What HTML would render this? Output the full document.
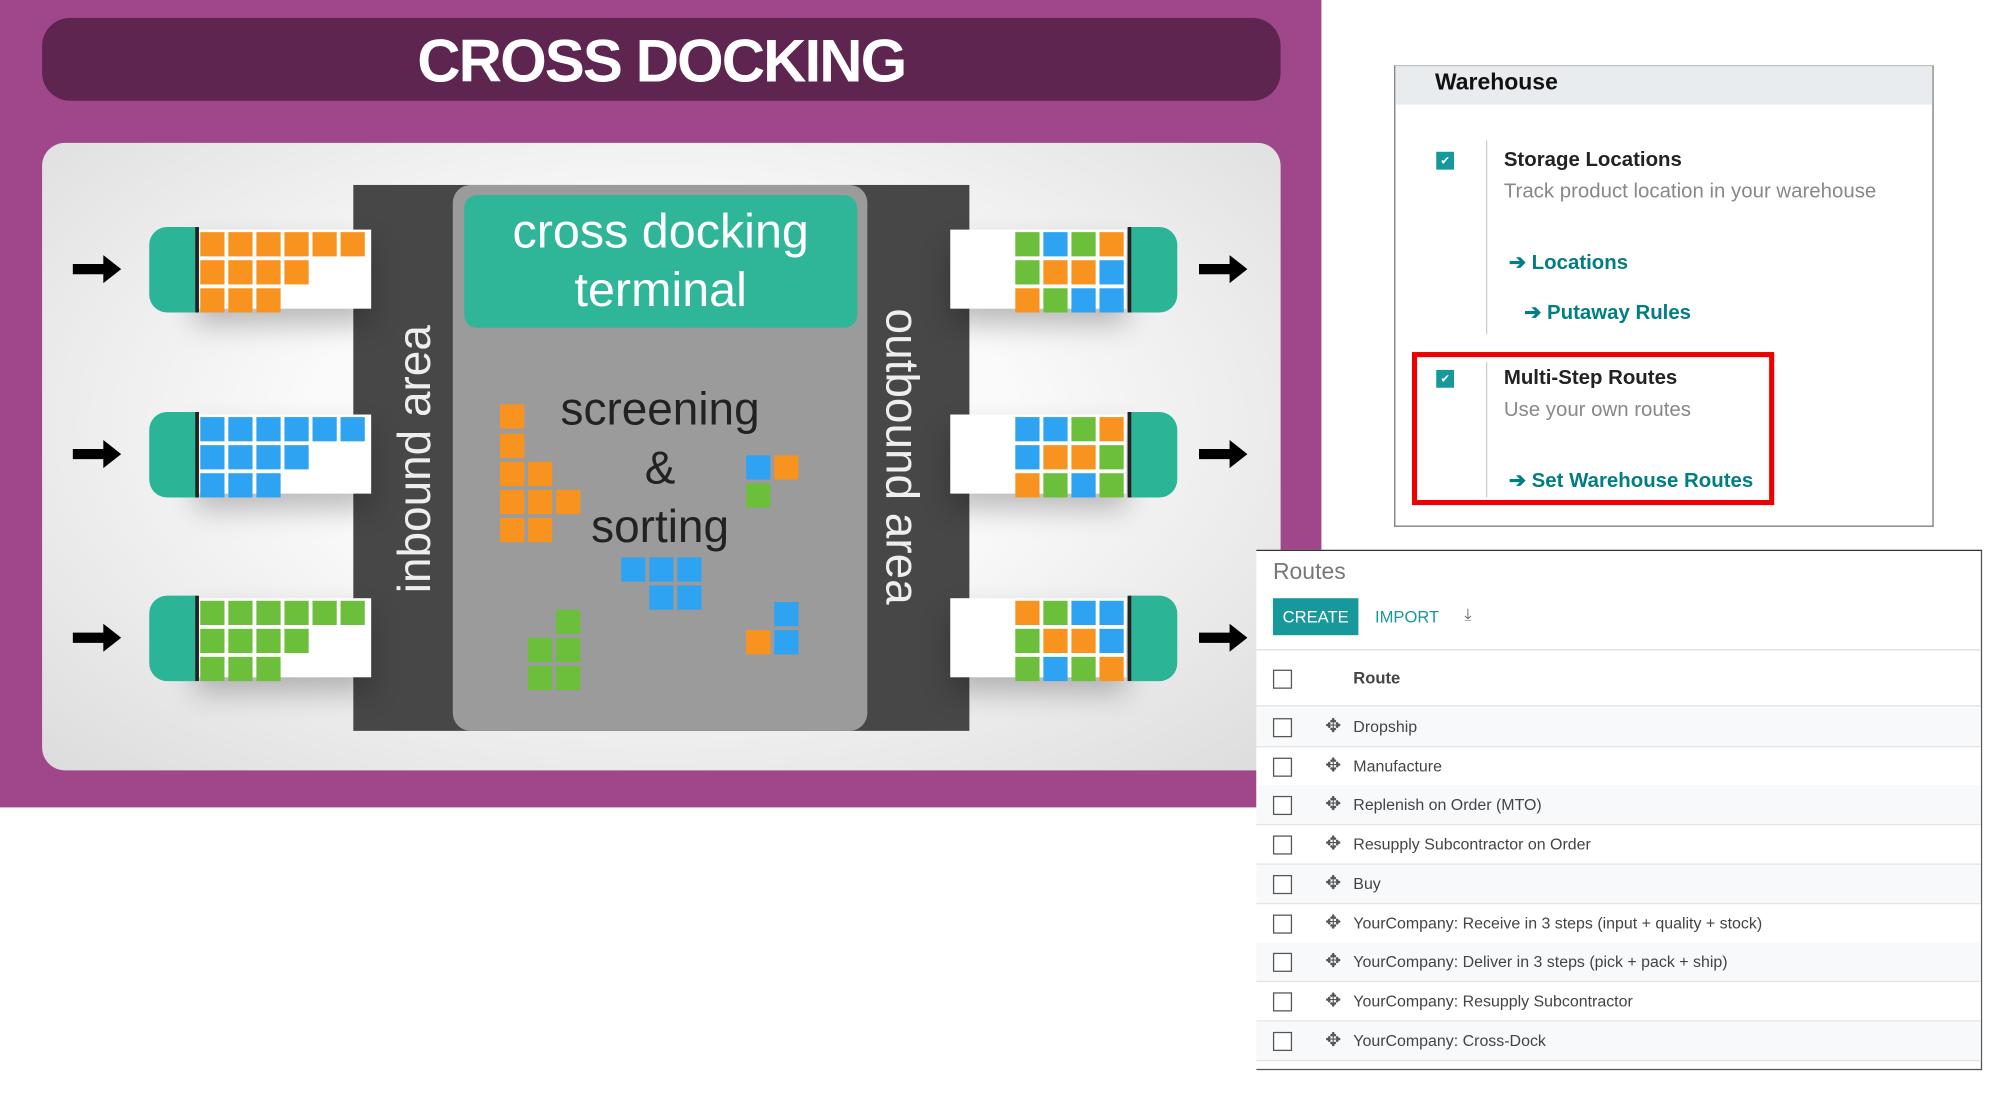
<!DOCTYPE html>
<html><head><meta charset="utf-8"><style>
html,body{margin:0;padding:0;background:#fff;overflow:hidden}
#wrap{position:absolute;left:0;top:0;width:1570px;height:863px;transform:scale(1.2755);transform-origin:0 0;font-family:"Liberation Sans",sans-serif}
.a{position:absolute}
.sq{position:absolute;width:19px;height:19px}
.O{background:#f7931e}.B{background:#2ea3f2}.G{background:#6cbf3b}
.cab{position:absolute;width:36px;height:67px;background:#2bb596}
.trl{position:absolute;height:62px;width:138px;background:#fff;box-shadow:0 12px 22px rgba(0,0,0,.25)}
.arr{position:absolute;width:38px;height:22px}
.lnk{color:#017e84;font-weight:bold;font-size:16px}
.cb{position:absolute;width:13px;height:13px;border:1.5px solid #555;background:#fff}
.row{position:absolute;left:0;width:568px;height:30px;border-bottom:1px solid #e2e2e2;font-size:13px;color:#444}
.row span{position:absolute;top:8px}
</style></head><body><div id="wrap">
<div class="a" style="left:0;top:0;width:1036px;height:633px;background:#a0468a"></div>
<div class="a" style="left:33px;top:14px;width:971px;height:65px;border-radius:22px;background:#5e2550;color:#fff;font-weight:bold;font-size:47px;text-align:center;line-height:67px;letter-spacing:-1.5px">CROSS DOCKING</div>
<div class="a" style="left:33px;top:112px;width:971px;height:492px;border-radius:18px;background:radial-gradient(ellipse at 50% 45%,#fafafa 40%,#dcdcdc 100%)"></div>
<div class="a" style="left:277px;top:145px;width:483px;height:428px;background:#474747"></div>
<div class="a" style="left:355px;top:145px;width:325px;height:428px;background:#9b9b9b;border-radius:14px"></div>
<div class="a" style="left:364px;top:153px;width:308px;height:104px;background:#2fb597;border-radius:10px;color:#fff;font-size:38px;text-align:center;line-height:46px;padding-top:6px;box-sizing:border-box">cross docking<br>terminal</div>
<div class="a" style="left:355px;top:298px;width:325px;text-align:center;font-size:36px;line-height:46px;color:#222">screening<br>&amp;<br>sorting</div>
<div class="a" style="left:325px;top:360px;width:0;height:0"><div style="position:absolute;transform:translate(-50%,-50%) rotate(-90deg);white-space:nowrap;color:#eee;font-size:36px">inbound area</div></div>
<div class="a" style="left:707px;top:358px;width:0;height:0"><div style="position:absolute;transform:translate(-50%,-50%) rotate(90deg);white-space:nowrap;color:#eee;font-size:36px">outbound area</div></div>
<div id="gen"></div>

<div class="a" style="left:1093px;top:51px;width:421px;height:360px;border:1px solid #777;border-top-color:#bbb;background:#fff"></div>
<div class="a" style="left:1094px;top:52px;width:421px;height:30px;background:#e9ecef"></div>
<div class="a" style="left:1125px;top:54px;font-size:18px;font-weight:bold;color:#111">Warehouse</div>
<div class="a" style="left:1126px;top:119px;width:14px;height:14px;background:#17999b;color:#fff;font-size:9px;text-align:center;line-height:14px">✔</div>
<div class="a" style="left:1165px;top:110px;width:1px;height:152px;background:#ccc"></div>
<div class="a" style="left:1179px;top:117px;font-size:16px;font-weight:bold;color:#222">Storage Locations</div>
<div class="a" style="left:1179px;top:142px;font-size:16px;color:#888">Track product location in your warehouse</div>
<div class="a lnk" style="left:1183px;top:196px">➔ Locations</div>
<div class="a lnk" style="left:1195px;top:235px">➔ Putaway Rules</div>
<div class="a" style="left:1107px;top:276px;width:276px;height:112px;border:4px solid #ee0000"></div>
<div class="a" style="left:1126px;top:290px;width:14px;height:14px;background:#17999b;color:#fff;font-size:9px;text-align:center;line-height:14px">✔</div>
<div class="a" style="left:1165px;top:284px;width:1px;height:106px;background:#ccc"></div>
<div class="a" style="left:1179px;top:288px;font-size:16px;font-weight:bold;color:#222">Multi-Step Routes</div>
<div class="a" style="left:1179px;top:313px;font-size:16px;color:#888">Use your own routes</div>
<div class="a lnk" style="left:1183px;top:367px">➔ Set Warehouse Routes</div>

<div class="a" style="left:985px;top:431px;width:568px;height:406px;border-top:1.5px solid #333;border-right:1.5px solid #555;border-bottom:1.5px solid #555;background:#fff">
 <div class="a" style="left:13px;top:6px;font-size:18px;color:#777">Routes</div>
 <div class="a" style="left:13px;top:37px;width:67px;height:29px;background:#17999b;color:#fff;font-size:13px;line-height:29px;text-align:center">CREATE</div>
 <div class="a" style="left:93px;top:44px;font-size:13px;color:#17999b">IMPORT</div>
 <div class="a" style="left:163px;top:42px;font-size:13px;color:#666">⤓</div>
 <div class="a" style="left:0;top:77px;width:568px;height:1px;background:#ddd"></div>
 <div class="cb" style="left:13px;top:93px"></div>
 <div class="a" style="left:76px;top:92px;font-size:13px;font-weight:bold;color:#444">Route</div>
 <div class="a" style="left:0;top:121px;width:568px;height:1px;background:#ddd"></div>
 <div id="rows" class="a" style="left:0;top:123px;width:568px"></div>
</div>
</div>
<script>
var g=document.getElementById('gen'),h='';
function sq(x,y,c){h+='<div class="sq '+c+'" style="left:'+x+'px;top:'+y+'px"></div>';}
var tops=[178,323,467],lc=['O','B','G'];
var rg=[[['G','B','G','O'],['G','O','O','B'],['O','G','B','B']],[['B','B','G','O'],['B','O','O','G'],['O','G','B','G']],[['O','G','B','B'],['G','O','O','B'],['G','B','G','O']]];
var arrow='<svg viewBox="0 0 38 22" width="38" height="22"><path d="M0 7H24V0L38 11L24 22V15H0Z" fill="#000"/></svg>';
tops.forEach(function(t,i){
 h+='<div class="trl" style="left:153px;top:'+(t+2)+'px"></div>';
 h+='<div class="cab" style="left:117px;top:'+t+'px;border-radius:14px 0 0 14px;border-right:3px solid #222"></div>';
 h+='<div class="trl" style="left:745px;top:'+(t+2)+'px"></div>';
 h+='<div class="cab" style="left:884px;top:'+t+'px;border-radius:0 14px 14px 0;border-left:3px solid #222"></div>';
 h+='<div class="arr" style="left:57px;top:'+(t+22)+'px">'+arrow+'</div>';
 h+='<div class="arr" style="left:940px;top:'+(t+22)+'px">'+arrow+'</div>';
 var n=[6,4,3];
 for(var r=0;r<3;r++)for(var c=0;c<n[r];c++)sq(157+c*22,t+4+r*22,lc[i]);
 for(var r=0;r<3;r++)for(var c=0;c<4;c++)sq(796+c*22,t+4+r*22,rg[i][r][c]);
});
[[392,317],[392,340],[392,362],[414,362],[392,384],[414,384],[436,384],[392,406],[414,406]].forEach(function(p){sq(p[0],p[1],'O')});
sq(585,357,'B');sq(607,357,'O');sq(585,379,'G');
[[487,437],[509,437],[531,437],[509,459],[531,459]].forEach(function(p){sq(p[0],p[1],'B')});
[[436,478],[414,500],[436,500],[414,522],[436,522]].forEach(function(p){sq(p[0],p[1],'G')});
sq(607,472,'B');sq(585,494,'O');sq(607,494,'B');
g.innerHTML=h;
var names=['Dropship','Manufacture','Replenish on Order (MTO)','Resupply Subcontractor on Order','Buy','YourCompany: Receive in 3 steps (input + quality + stock)','YourCompany: Deliver in 3 steps (pick + pack + ship)','YourCompany: Resupply Subcontractor','YourCompany: Cross-Dock'];
var rh='';names.forEach(function(n,i){rh+='<div class="row" style="top:'+(i*30.7)+'px;background:'+(i%2?'#fff':'#f8f9fa')+'"><div class="cb" style="left:13px;top:8px"></div><span style="left:54px;top:5px;font-size:15px;color:#555">✥</span><span style="left:76px;font-size:12.5px">'+n+'</span></div>';});
document.getElementById('rows').innerHTML=rh;
</script>
</body></html>
